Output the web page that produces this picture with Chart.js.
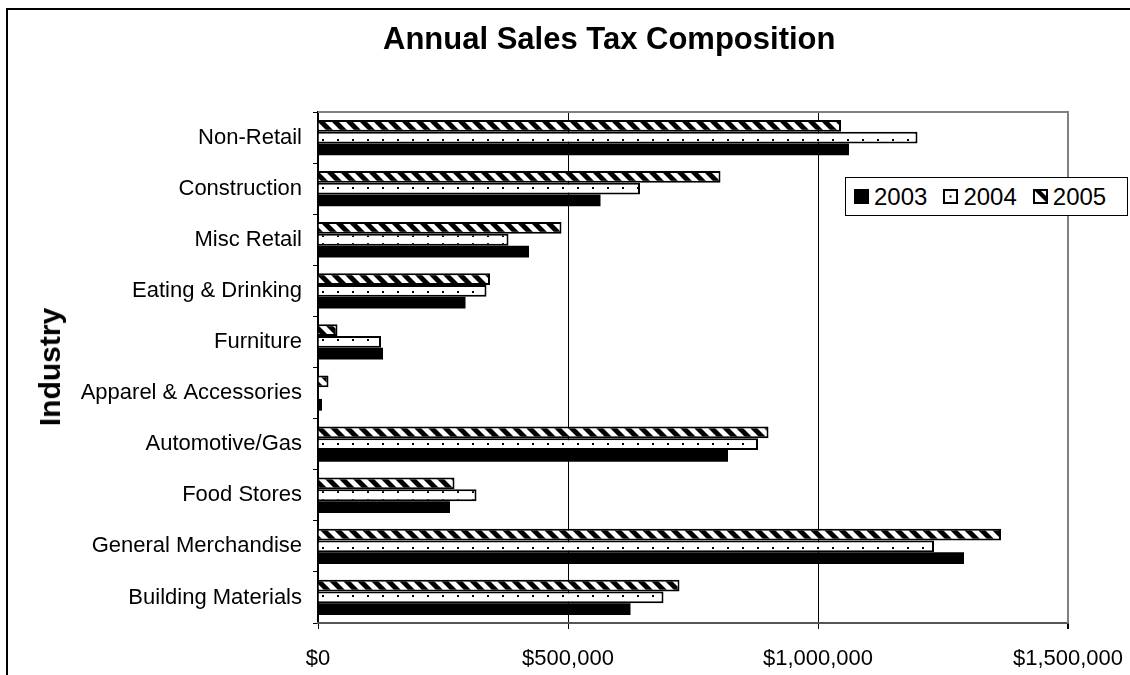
<!DOCTYPE html>
<html>
<head>
<meta charset="utf-8">
<script src="https://cdn.jsdelivr.net/npm/chart.js@4.4.1/dist/chart.umd.min.js"></script>
<style>
  html, body { margin: 0; padding: 0; background: #fff; }
  #wrap { position: relative; width: 1130px; height: 675px; overflow: hidden; font-family: "Liberation Sans", Arial, sans-serif; }
  #frame { position: absolute; left: 6px; top: 8px; width: 1200px; height: 800px; border-left: 2px solid #000; border-top: 2px solid #000; }
  #chart { position: absolute; left: 0; top: 0; }
  #title { position: absolute; left: 383px; top: 21px; white-space: nowrap; font-weight: bold; font-size: 31px; line-height: 36px; color: #000; }
  #ytitle { position: absolute; left: 50px; top: 367px; transform: translate(-50%, -50%) rotate(-90deg); white-space: nowrap; font-weight: bold; font-size: 30px; line-height: 34px; color: #000; }
  #legend { position: absolute; left: 845px; top: 177px; width: 283px; height: 39px; border: 1px solid #000; background: #fff; display: flex; align-items: center; padding-left: 8px; box-sizing: border-box; }
  .lg-item { display: flex; align-items: center; margin-right: 16px; font-size: 24px; color: #000; }
  .lg-item canvas { margin-right: 5px; }
</style>
</head>
<body>
<div id="wrap">
  <div id="frame"></div>
  <canvas id="chart" width="1130" height="675"></canvas>
  <div id="title">Annual Sales Tax Composition</div>
  <div id="ytitle">Industry</div>
  <div id="legend"></div>
</div>
<script>
// ===== 数据 =====
var industries = [
  'Non-Retail', 'Construction', 'Misc Retail', 'Eating & Drinking', 'Furniture',
  'Apparel & Accessories', 'Automotive/Gas', 'Food Stores', 'General Merchandise', 'Building Materials'
];
var sales2003 = [1062000, 565000, 422000, 295000, 130000, 8000, 820000, 264000, 1292000, 625000];
var sales2004 = [1199000, 644000, 381000, 337000, 126000, 1500, 880000, 317000, 1232000, 691000];
var sales2005 = [1046000, 805000, 487000, 344000, 39000, 21000, 901000, 273000, 1366000, 723000];
var years = ['2003', '2004', '2005'];
var xTicks = [0, 500000, 1000000, 1500000];
var xTickLabels = ['$0', '$500,000', '$1,000,000', '$1,500,000'];

// ===== 填充图案 =====
function makeHatch() {
  var c = document.createElement('canvas');
  c.width = 14; c.height = 14;
  var g = c.getContext('2d');
  g.fillStyle = '#fff';
  g.fillRect(0, 0, 14, 14);
  g.fillStyle = '#000';
  [-14, 0, 14].forEach(function(o) {
    g.beginPath();
    g.moveTo(o, 0);
    g.lineTo(o + 7, 0);
    g.lineTo(o + 21, 14);
    g.lineTo(o + 14, 14);
    g.closePath();
    g.fill();
  });
  return c;
}

function makeDots() {
  var c = document.createElement('canvas');
  c.width = 15; c.height = 8;
  var g = c.getContext('2d');
  g.fillStyle = '#fff';
  g.fillRect(0, 0, 15, 8);
  g.fillStyle = '#000';
  g.fillRect(7, 3, 2, 2);
  return c;
}

var ctx = document.getElementById('chart').getContext('2d');
var hatchFill = ctx.createPattern(makeHatch(), 'repeat');
var dotFill = ctx.createPattern(makeDots(), 'repeat');

// ===== 图例 =====
function drawSwatch(year) {
  var c = document.createElement('canvas');
  c.width = 15; c.height = 15;
  var g = c.getContext('2d');
  if (year === '2003') {
    g.fillStyle = '#000';
    g.fillRect(0, 0, 15, 15);
    return c;
  }
  g.fillStyle = '#fff';
  g.fillRect(0, 0, 15, 15);
  g.fillStyle = '#000';
  if (year === '2004') {
    g.fillRect(6.5, 6.5, 2, 2);
  } else {
    g.beginPath();
    g.moveTo(0, 0);
    g.lineTo(6, 0);
    g.lineTo(15, 9);
    g.lineTo(15, 15);
    g.closePath();
    g.fill();
  }
  g.strokeStyle = '#000';
  g.lineWidth = 2;
  g.strokeRect(1, 1, 13, 13);
  return c;
}

var legendEl = document.getElementById('legend');
years.forEach(function(y) {
  var item = document.createElement('div');
  item.className = 'lg-item';
  item.appendChild(drawSwatch(y));
  var t = document.createElement('span');
  t.textContent = y;
  item.appendChild(t);
  legendEl.appendChild(item);
});

// ===== 绘图区边框 =====
var plotFrame = {
  id: 'plotFrame',
  beforeDatasetsDraw: function(chart) {
    var a = chart.chartArea;
    var g = chart.ctx;
    g.save();
    g.strokeStyle = '#808080';
    g.lineWidth = 2;
    g.beginPath();
    g.moveTo(a.left, a.top);
    g.lineTo(a.right, a.top);
    g.lineTo(a.right, a.bottom);
    g.stroke();
    g.restore();
  }
};

new Chart(ctx, {
  type: 'bar',
  data: {
    labels: industries,
    datasets: [
      { label: '2005', data: sales2005, backgroundColor: hatchFill, borderColor: '#000', borderWidth: 2 },
      { label: '2004', data: sales2004, backgroundColor: dotFill, borderColor: '#000', borderWidth: 2 },
      { label: '2003', data: sales2003, backgroundColor: '#000', borderWidth: 0 }
    ]
  },
  options: {
    indexAxis: 'y',
    responsive: false,
    devicePixelRatio: 1,
    animation: false,
    layout: { padding: { left: 0, top: 112, right: 62, bottom: 0 } },
    datasets: { bar: { categoryPercentage: 0.69, barPercentage: 1.0 } },
    plugins: { legend: { display: false }, tooltip: { enabled: false }, title: { display: false } },
    scales: {
      y: {
        afterFit: function(s) { s.width = 318; s.paddingTop = 0; s.paddingBottom = 0; },
        grid: { drawOnChartArea: false, drawTicks: true, tickLength: 5, tickColor: '#000', offset: true },
        border: { color: '#000', width: 2 },
        ticks: { color: '#000', padding: 11, font: { family: 'Liberation Sans', size: 22 } }
      },
      x: {
        min: 0,
        max: 1500000,
        afterFit: function(s) { s.height = 52; s.paddingLeft = 0; s.paddingRight = 0; },
        afterBuildTicks: function(s) { s.ticks = xTicks.map(function(v) { return { value: v }; }); },
        grid: {
          color: function(c) {
            if (c.index === 0) return 'rgba(0,0,0,0)';
            if (c.index === xTicks.length - 1) return '#808080';
            return '#000';
          },
          lineWidth: function(c) { return c.index === xTicks.length - 1 ? 2 : 1; },
          tickLength: 6,
          tickColor: '#000'
        },
        border: { color: '#555', width: 2 },
        ticks: {
          color: '#000',
          padding: 17,
          font: { family: 'Liberation Sans', size: 22 },
          callback: function(v, i) { return xTickLabels[i]; }
        }
      }
    }
  },
  plugins: [plotFrame]
});
</script>
</body>
</html>
